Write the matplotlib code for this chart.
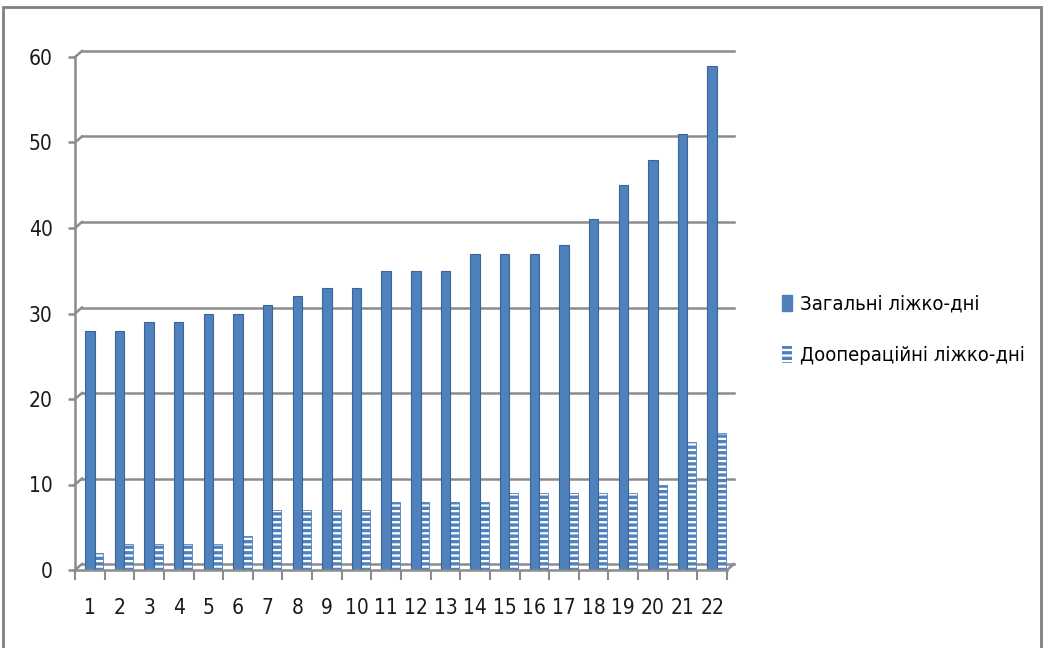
import matplotlib.pyplot as plt
import matplotlib.transforms as mtransforms
from matplotlib.patches import Patch, Rectangle
import numpy as np

plt.rcParams['font.family'] = ['DejaVu Sans']
plt.rcParams['font.stretch'] = 'condensed'
plt.rcParams['hatch.linewidth'] = 2.4

# Дані
patients = [str(i) for i in range(1, 23)]
total_days = [28, 28, 29, 29, 30, 30, 31, 32, 33, 33, 35, 35, 35, 37, 37, 37, 38, 41, 45, 48, 51, 59]
preop_days = [2, 3, 3, 3, 3, 4, 7, 7, 7, 7, 8, 8, 8, 8, 9, 9, 9, 9, 9, 10, 15, 16]
label_total = "Загальні ліжко-дні"
label_preop = "Доопераційні ліжко-дні"

blue = '#4F81BD'
grid_c = '#8c8c8c'

fig = plt.figure(figsize=(10.44, 6.48), dpi=100)
ax = fig.add_axes([75 / 1044, 78 / 648, 652 / 1044, 513 / 648])

x = np.arange(1, len(patients) + 1)
ax.bar(x, total_days, width=0.32, color=blue, edgecolor='#3a659a', linewidth=0.8, zorder=3)
ax.bar(x + 0.31, preop_days, width=0.3, color='white', edgecolor=blue, hatch='---',
       linewidth=0.6, zorder=2)

ax.set_xlim(0.5, 22.5)
ax.set_ylim(0, 60)

# задня стінка: сітка зі зсувом
off = mtransforms.ScaledTranslation(7 / 100, 6 / 100, fig.dpi_scale_trans)
tr = ax.transData + off
inv = ax.transData.inverted()


def diag(xv, yv):
    a = inv.transform(ax.transData.transform((xv, yv)))
    b = inv.transform(tr.transform((xv, yv)))
    ax.plot([a[0], b[0]], [a[1], b[1]], color=grid_c, lw=1.8, zorder=1, clip_on=False)


for yv in range(0, 61, 10):
    ax.plot([0.5, 22.5], [yv, yv], color=grid_c, lw=1.8, transform=tr, zorder=1, clip_on=False)
    diag(0.5, yv)
diag(22.5, 0)
# передній край підлоги
ax.plot([0.5, 22.5], [0, 0], color=grid_c, lw=1.8, zorder=4, clip_on=False)

for s in ['top', 'right', 'bottom']:
    ax.spines[s].set_visible(False)
ax.spines['left'].set_color(grid_c)
ax.spines['left'].set_linewidth(1.8)

ax.set_yticks(range(0, 61, 10))
ax.set_xticks(x)
ax.set_xticklabels(patients)
ax.set_xticks(np.arange(0.5, 23, 1), minor=True)
ax.tick_params(axis='y', length=5, width=1.8, color=grid_c, pad=11, labelsize=15, labelcolor='#1a1a1a')
ax.tick_params(axis='x', which='major', length=0, pad=20, labelsize=15, labelcolor='#1a1a1a')
ax.tick_params(axis='x', which='minor', length=7, width=1.5, color=grid_c)

handles = [Patch(facecolor=blue, edgecolor=blue),
           Patch(facecolor='white', edgecolor=blue, hatch='---', linewidth=0)]
fig.legend(handles, [label_total, label_preop], loc='center left',
           bbox_to_anchor=(764 / 1044, 1 - 330 / 648), frameon=False,
           fontsize=14.5, handlelength=0.5, handleheight=0.9, handletextpad=0.4,
           labelspacing=1.6)

# рамка
fig.add_artist(Rectangle((3 / 1044, -0.02), 1038 / 1044, 1.02 - 7 / 648,
                         transform=fig.transFigure, fill=False,
                         edgecolor='#808080', lw=2))

plt.savefig("out.png", dpi=100)
